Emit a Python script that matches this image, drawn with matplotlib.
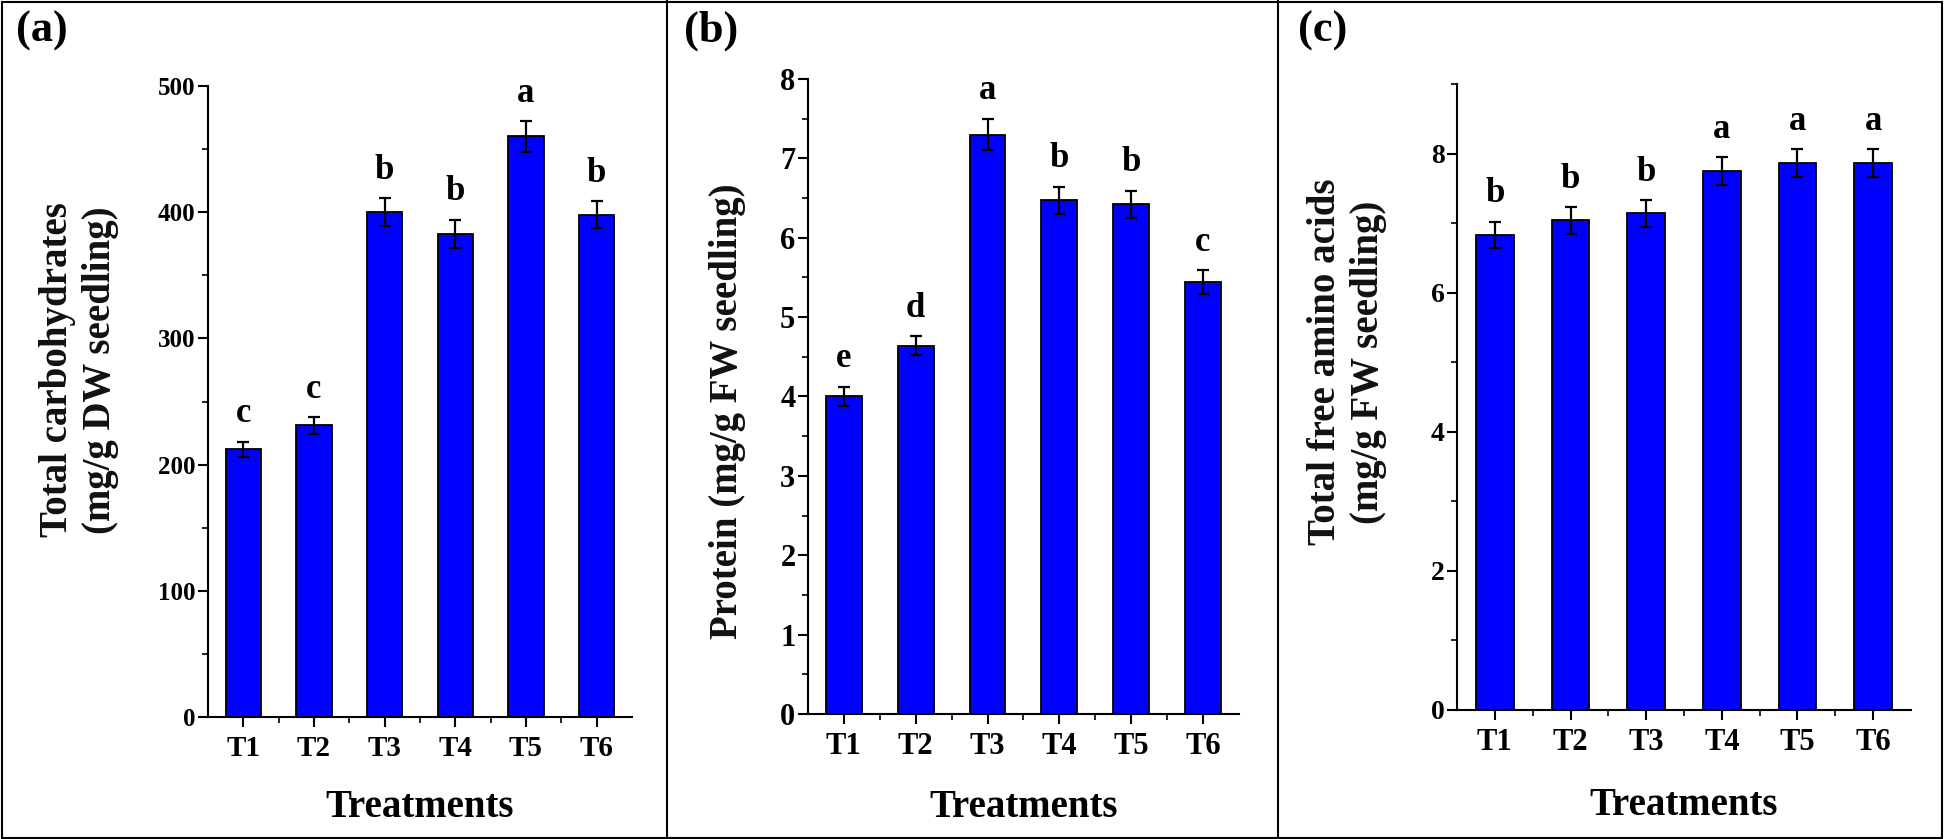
import matplotlib
matplotlib.use("Agg")
import matplotlib.pyplot as plt
from matplotlib.ticker import MultipleLocator, FixedLocator
from matplotlib.lines import Line2D
from matplotlib.patches import Rectangle

treatments = ['T1', 'T2', 'T3', 'T4', 'T5', 'T6']

carb_mean = [212, 231, 400, 383, 460, 398]
carb_err = [6, 6.5, 11, 11, 12, 10.5]
carb_letters = ['c', 'c', 'b', 'b', 'a', 'b']

protein_mean = [4.0, 4.64, 7.30, 6.47, 6.42, 5.44]
protein_err = [0.12, 0.12, 0.2, 0.17, 0.17, 0.15]
protein_letters = ['e', 'd', 'a', 'b', 'b', 'c']

amino_mean = [6.83, 7.04, 7.14, 7.75, 7.86, 7.86]
amino_err = [0.19, 0.19, 0.19, 0.2, 0.2, 0.2]
amino_letters = ['b', 'b', 'b', 'a', 'a', 'a']

plt.rcParams['font.family'] = ['Liberation Serif', 'DejaVu Serif']
plt.rcParams['font.weight'] = 'bold'

fig = plt.figure(figsize=(19.44, 8.39), dpi=100)


def bar_panel(rect, mean, err, letters, ylim, major, minor, ylabel,
              ylab_xy, xlab_xy, ytick_fs, xtick_fs):
    ax = fig.add_axes(rect)
    x = list(range(1, len(mean) + 1))
    ax.bar(x, mean, width=0.5, color='#0000FF', edgecolor='black', linewidth=1.3,
           yerr=err, capsize=4, error_kw=dict(elinewidth=1.6, capthick=1.6, ecolor='black'))
    for xi, m, e, lt in zip(x, mean, err, letters):
        ax.annotate(lt, (xi, m + e), xytext=(0, 14), textcoords='offset points',
                    ha='center', va='baseline', fontsize=25, fontweight='bold')
    ax.set_xlim(0.5, len(mean) + 0.5)
    ax.set_ylim(*ylim)
    ax.set_xticks(x)
    ax.set_xticklabels(treatments)
    ax.xaxis.set_minor_locator(FixedLocator([i + 0.5 for i in x[:-1]]))
    ax.yaxis.set_major_locator(MultipleLocator(major))
    ax.yaxis.set_minor_locator(MultipleLocator(minor))
    for s in ['top', 'right']:
        ax.spines[s].set_visible(False)
    for s in ['left', 'bottom']:
        ax.spines[s].set_linewidth(1.5)
    ax.tick_params(axis='y', which='major', direction='out', length=7, width=1.5,
                   labelsize=ytick_fs, pad=2)
    ax.tick_params(axis='x', which='major', direction='out', length=7, width=1.5,
                   labelsize=xtick_fs, pad=6)
    ax.tick_params(which='minor', direction='out', length=4, width=1.2)
    ax.set_ylabel(ylabel, fontsize=28, fontweight='bold', va='center', ha='center',
                  color='#111111', linespacing=1.2)
    ax.yaxis.set_label_coords(*ylab_xy)
    ax.set_xlabel('Treatments', fontsize=28, fontweight='bold', va='center')
    ax.xaxis.set_label_coords(*xlab_xy)
    return ax


bar_panel([0.1070, 0.1454, 0.2181, 0.7521], carb_mean, carb_err, carb_letters,
          (0, 500), 100, 50, 'Total carbohydrates\n(mg/g DW seedling)',
          (-0.304, 0.55), (0.5, -0.143), 18, 21)
bar_panel([0.4156, 0.1490, 0.2217, 0.7569], protein_mean, protein_err, protein_letters,
          (0, 8), 1, 0.5, 'Protein (mg/g FW seedling)',
          (-0.186, 0.477), (0.5, -0.147), 22, 22)
bar_panel([0.7495, 0.1538, 0.2335, 0.7461], amino_mean, amino_err, amino_letters,
          (0, 9), 2, 1, 'Total free amino acids\n(mg/g FW seedling)',
          (-0.243, 0.556), (0.5, -0.153), 20, 22)

# panel tags
for tag, px in [('(a)', 16), ('(b)', 684), ('(c)', 1298)]:
    fig.text(px / 1944, 1 - 11 / 839, tag, fontsize=32, fontweight='bold',
             ha='left', va='top')

# frames around the panels
fig.add_artist(Rectangle((0.001, 0.001), 0.998, 0.997, transform=fig.transFigure,
                         fill=False, edgecolor='black', linewidth=1.5))
for xb in [667, 1278]:
    fig.add_artist(Line2D([xb / 1944, xb / 1944], [0, 1], transform=fig.transFigure,
                          color='black', linewidth=1.5))

fig.savefig('out.png', dpi=100)
